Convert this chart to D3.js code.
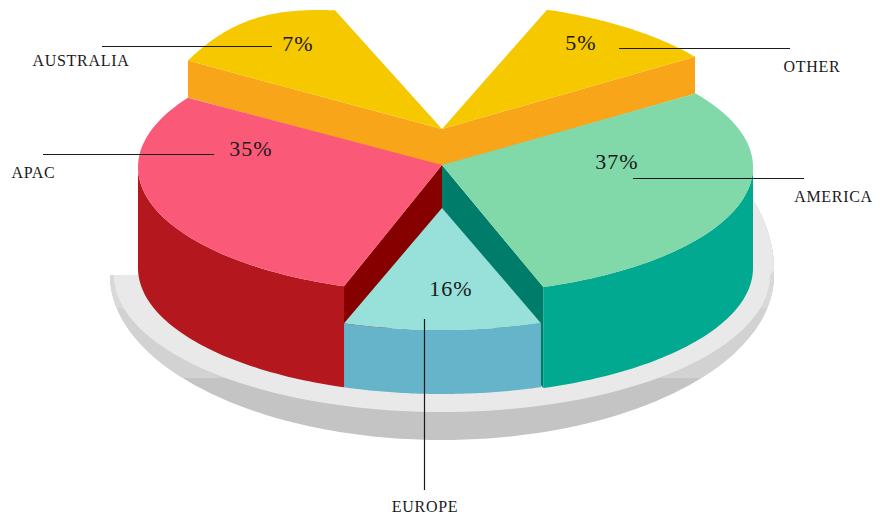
<!DOCTYPE html>
<html>
<head>
<meta charset="utf-8">
<script src="https://cdn.jsdelivr.net/npm/d3@7"></script>
<style>
html,body{margin:0;padding:0;background:#fff}
svg{display:block}
text{font-family:"Liberation Serif",serif;fill:#1a1a1a}
</style>
</head>
<body>
<svg id="chart" width="889" height="516"></svg>
<script>
// ---- data ----
const categories = ["AMERICA", "EUROPE", "APAC", "AUSTRALIA", "OTHER"];
const shares = [37, 16, 35, 7, 5];

// ---- presentation ----
const topColors  = ["#81d8a8", "#97e1da", "#fa5a78", "#f5c800", "#f5c800"];
const sideColors = ["#00a98f", "#66b4c9", "#b4181e", "#f8a519", "#f8a519"];
const wallColors = ["#007d6a", "#66b4c9", "#870000", "#f8a519", "#f8a519"];
const liftY   = [0, 37, 0, -35, -35];
const apexNudge = [-2, 4, -2, -3, -3];
const depths  = [101, 64, 101, 37, 37];
const radiiX  = [311, 304, 304, 304, 310];
const radiiY  = [127, 126, 126, 130, 130];
const bulges  = [0, 0, 0, 11, 0];
const drawOrder = [3, 4, 2, 0, 1];
const centreX = 442, centreY = 167;

// The drawing is not to scale: percent positions map to rim angles, piecewise,
// with a jump where the open notch sits at the back.
const rimAngle = d3.scaleLinear()
  .domain([0, 37, 53, 88, 95, 95, 100])
  .range([-35.3, 71, 108.8, 213.3, 249.4, 289.8, 324.7]);
const percentOf = d3.scaleLinear().domain([0, 2 * Math.PI]).range([0, 100]);

const pieData = d3.pie().value(d => d).sort(null)(shares);
const svg = d3.select("#chart");
const line = d3.line();
const rad = d => d * Math.PI / 180;

// ---- plate ----
const plate = svg.append("g");
const plateX = 442, plateY = 275;
function plateOutline(rxLow, ryLow, ryHigh) {
  const lower = d3.range(0, 181, 2).map(a =>
    [plateX + rxLow * Math.cos(rad(a)), plateY + ryLow * Math.sin(rad(a))]);
  const upper = d3.range(-26, 1, 2).map(a =>
    [plateX + 332 * Math.cos(rad(a)), plateY - 5 + ryHigh * Math.sin(rad(a))]);
  return line([[plateX, plateY], ...upper, ...lower]) + "Z";
}
const defs = svg.append("defs");
defs.append("clipPath").attr("id", "above378").append("rect")
  .attr("x", 0).attr("y", 0).attr("width", 889).attr("height", 378);
defs.append("clipPath").attr("id", "above308").append("rect")
  .attr("x", 0).attr("y", 0).attr("width", 889).attr("height", 308);
plate.append("path").attr("d", plateOutline(332, 165, 200)).attr("fill", "#c4c4c4");
plate.append("path").attr("d", plateOutline(332, 165, 200)).attr("fill", "#d2d2d2")
  .attr("clip-path", "url(#above378)");
plate.append("path").attr("d", plateOutline(332, 165, 200)).attr("fill", "#d9d9d9")
  .attr("clip-path", "url(#above308)");
plate.append("path").attr("d", plateOutline(328, 137, 200)).attr("fill", "#e9e9e9");

// ---- slices ----
const slices = svg.append("g");
drawOrder.forEach(i => {
  const p = pieData[i];
  const a0 = rimAngle(percentOf(p.startAngle) + 1e-3);
  const a1 = rimAngle(percentOf(p.endAngle) - 1e-3);
  const cy = centreY + liftY[i];
  const rx = radiiX[i], ry = radiiY[i], depth = depths[i];
  const rimPoint = (a, t = 0) => [
    centreX + rx * Math.cos(rad(a)),
    cy + ry * Math.sin(rad(a)) - bulges[i] * Math.sin(Math.PI * t)
  ];
  const arcPoints = (from, to) => d3.range(0, 61).map(k => {
    const t = k / 60;
    return rimPoint(from + (to - from) * t, (from + (to - from) * t - a0) / (a1 - a0));
  });
  const down = pt => [pt[0], pt[1] + depth];
  const apex = [centreX, cy + apexNudge[i]];

  const g = slices.append("g").attr("class", "slice").datum(categories[i]);

  // faces of the cut, only those turned towards the viewer
  [[a0, a0 - 90], [a1, a1 + 90]].forEach(([a, normal]) => {
    if (Math.sin(rad(normal)) > 0) {
      const edge = rimPoint(a);
      g.append("path")
        .attr("d", line([apex, edge, down(edge), down(apex)]) + "Z")
        .attr("fill", wallColors[i]);
    }
  });

  // outer skirt, the front half of the rim
  const f0 = Math.max(a0, 0), f1 = Math.min(a1, 180);
  if (f1 > f0) {
    const rim = arcPoints(f0, f1);
    g.append("path")
      .attr("d", line([...rim, ...rim.map(down).reverse()]) + "Z")
      .attr("fill", sideColors[i]);
  }

  // top face
  g.append("path")
    .attr("d", line([apex, ...arcPoints(a0, a1)]) + "Z")
    .attr("fill", topColors[i]);
});

// ---- annotations ----
const leaderLines = [
  [[633, 178.5], [804, 178.5]],
  [[424.5, 319], [424.5, 490]],
  [[43, 154.5], [214, 154.5]],
  [[102, 46.5], [272, 46.5]],
  [[619, 48.5], [790, 48.5]]
];
const namePlaces = [[833.5, 202], [425, 512], [33.5, 178], [81, 66], [812, 72]];
const sharePlaces = [[617, 169], [451, 296], [251, 156], [298, 51], [581, 50]];

const notes = svg.append("g");
leaderLines.forEach(l => {
  notes.append("path").attr("d", line(l)).attr("stroke", "#1a1a1a")
    .attr("stroke-width", 1.2).attr("fill", "none");
});
categories.forEach((c, i) => {
  notes.append("text").attr("x", namePlaces[i][0]).attr("y", namePlaces[i][1])
    .attr("text-anchor", "middle").attr("font-size", 16)
    .attr("letter-spacing", 0.7).text(c);
  notes.append("text").attr("x", sharePlaces[i][0]).attr("y", sharePlaces[i][1])
    .attr("text-anchor", "middle").attr("font-size", 22)
    .attr("letter-spacing", 1).text(shares[i] + "%");
});
</script>
</body>
</html>
